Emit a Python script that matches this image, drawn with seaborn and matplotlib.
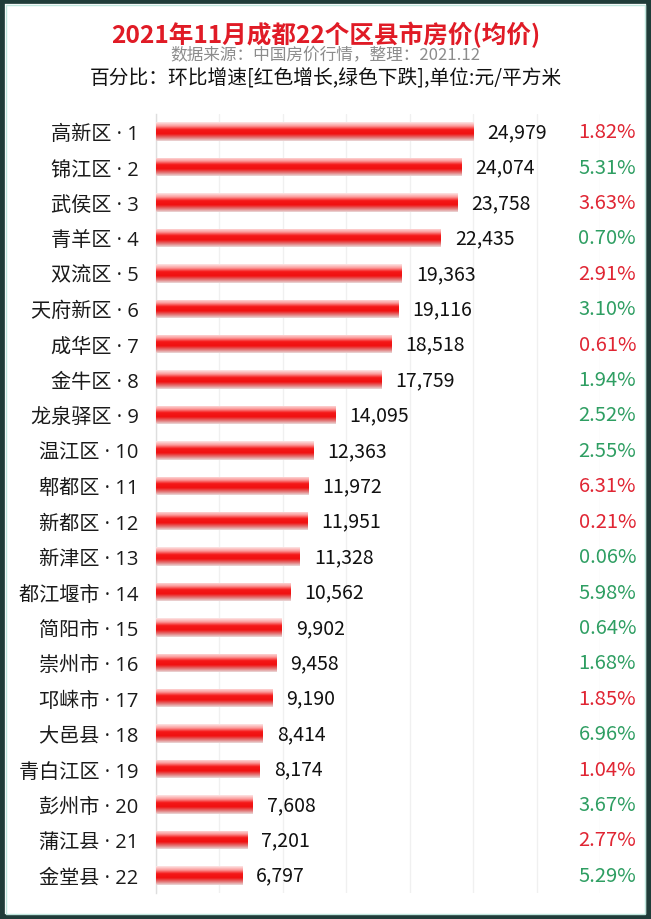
import numpy as np
import pandas as pd
import matplotlib
matplotlib.use("Agg")
import matplotlib.pyplot as plt
import matplotlib.transforms as mtransforms
from matplotlib.colors import LinearSegmentedColormap
from matplotlib.patches import Rectangle
import seaborn as sns

districts = ["高新区", "锦江区", "武侯区", "青羊区", "双流区", "天府新区", "成华区", "金牛区",
             "龙泉驿区", "温江区", "郫都区", "新都区", "新津区", "都江堰市", "简阳市", "崇州市",
             "邛崃市", "大邑县", "青白江区", "彭州市", "蒲江县", "金堂县"]
prices = [24979, 24074, 23758, 22435, 19363, 19116, 18518, 17759, 14095, 12363, 11972,
          11951, 11328, 10562, 9902, 9458, 9190, 8414, 8174, 7608, 7201, 6797]
growth = [1.82, 5.31, 3.63, 0.70, 2.91, 3.10, 0.61, 1.94, 2.52, 2.55, 6.31,
          0.21, 0.06, 5.98, 0.64, 1.68, 1.85, 6.96, 1.04, 3.67, 2.77, 5.29]
is_up = [True, False, True, False, True, False, True, False, False, False, True,
         True, False, False, False, False, True, False, True, False, True, False]

sns.set_style("white")
plt.rcParams['font.family'] = ['Noto Sans CJK SC', 'DejaVu Sans']
label_family = ['Open Sans', 'Noto Sans CJK SC']

labels = [f"{d} · {i+1}" for i, d in enumerate(districts)]
df = pd.DataFrame({"label": labels, "price": prices})

fig = plt.figure(figsize=(6.51, 9.2), dpi=100)
ax = fig.add_axes([156/651, 1-894/920, (600.5-156)/651, (894-115)/920])

sns.barplot(data=df, y="label", x="price", orient="h", color="red", width=0.52, ax=ax)
ax.set_xlim(0, 35000)
ax.set_ylim(21.5, -0.5)

grad_cmap = LinearSegmentedColormap.from_list(
    "bargrad",
    [(0.0, "#fde6e6"), (0.2, "#fb9a9a"), (0.4, "#f51818"), (0.62, "#f01010"),
     (0.82, "#e27272"), (1.0, "#ead8d8")])
grad = np.linspace(0, 1, 64).reshape(-1, 1)
for p in list(ax.patches):
    x0, y0 = p.get_x(), p.get_y()
    w, h = p.get_width(), p.get_height()
    p.set_facecolor("none")
    p.set_edgecolor("none")
    im = ax.imshow(grad, extent=(x0, x0 + w, y0 + h, y0), aspect="auto",
                   cmap=grad_cmap, origin="upper", interpolation="bilinear", zorder=3)
    im.set_clip_path(p)
ax.set_xlim(0, 35000)
ax.set_ylim(21.5, -0.5)

ax.set_xlabel("")
ax.set_ylabel("")
ax.set_xticks(np.arange(0, 35001, 5000))
ax.tick_params(axis="x", bottom=False, labelbottom=False)
ax.tick_params(axis="y", left=False, pad=9, labelcolor="#1a1a1a")
for t in ax.get_yticklabels():
    t.set_fontfamily(label_family)
    t.set_fontsize(14.5)
ax.grid(axis="x", color="#f0f0f0", lw=1.0, zorder=0)
ax.set_axisbelow(True)
for s in ["top", "right", "bottom"]:
    ax.spines[s].set_visible(False)
ax.spines["left"].set_color("#dedede")
ax.spines["left"].set_linewidth(1.0)

for i, v in enumerate(prices):
    ax.annotate(f"{v:,}", xy=(v, i), xytext=(10, 0), textcoords="offset points",
                va="center", ha="left", fontsize=14, color="#111111")

trans = mtransforms.blended_transform_factory(fig.transFigure, ax.transData)
for i, (g, up) in enumerate(zip(growth, is_up)):
    ax.text(636/651, i, f"{g:.2f}%", transform=trans, ha="right", va="center",
            fontsize=14.5, color="#e02533" if up else "#2e9e62", clip_on=False)

fig.text(0.5, 1-35/920, "2021年11月成都22个区县市房价(均价)", ha="center", va="center",
         fontsize=17.7, fontweight="bold", color="#e01b26")
fig.text(0.5, 1-56/920, "数据来源：中国房价行情，整理：2021.12", ha="center", va="center",
         fontsize=12, color="#8c8c8c")
fig.text(0.5, 1-79/920, "百分比：环比增速[红色增长,绿色下跌],单位:元/平方米", ha="center", va="center",
         fontsize=14.2, color="#111111")

fig.patches.append(Rectangle((0, 0), 1, 1, transform=fig.transFigure, fill=False,
                             edgecolor="#203c39", lw=7.0, zorder=10))
fig.patches.append(Rectangle((5.5/651, 5.5/920), 1-11/651, 1-11/920, transform=fig.transFigure,
                             fill=False, edgecolor="#bfe6dd", lw=1.0, zorder=10))

fig.savefig("out.png", dpi=100)
